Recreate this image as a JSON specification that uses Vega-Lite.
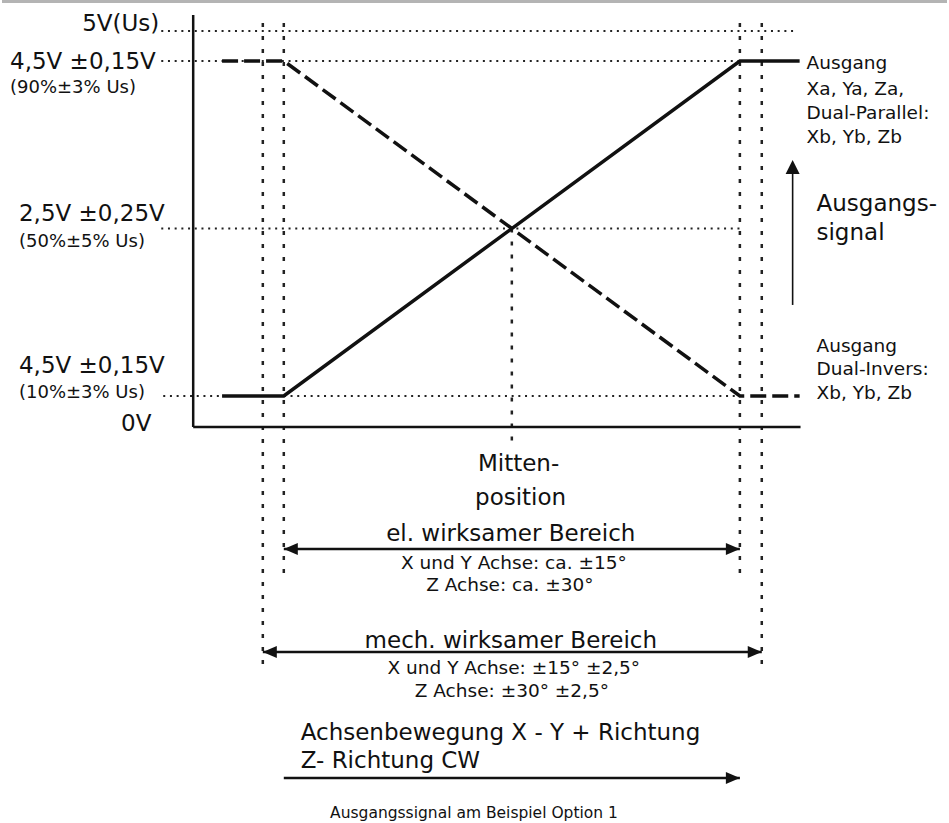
{
  "$schema": "https://vega.github.io/schema/vega-lite/v6.json",
  "width": 949,
  "height": 823,
  "autosize": {"type": "fit", "contains": "padding"},
  "padding": 0,
  "background": "white",
  "config": {"view": {"stroke": null}},
  "encoding": {
    "x": {"field": "x", "type": "quantitative", "scale": {"domain": [-33.536, 28.624], "nice": false, "zero": false}, "axis": null},
    "y": {"field": "y", "type": "quantitative", "scale": {"domain": [-4.598, 5.228], "nice": false, "zero": false}, "axis": null}
  },
  "layer": [
    {
      "data": {"values": [{"x": -33.536, "x2": 28.624, "y": 5.21, "y2": 5.21}]},
      "mark": {"type": "rule", "color": "#b4b4b4", "strokeWidth": 3},
      "encoding": {"x2": {"field": "x2"}, "y2": {"field": "y2"}}
    },
    {
      "data": {"values": [
        {"x": -23.06, "x2": 18.54, "y": 4.858, "y2": 4.858},
        {"x": -23.06, "x2": 15, "y": 4.5, "y2": 4.5},
        {"x": -23.06, "x2": 15, "y": 2.5, "y2": 2.5},
        {"x": -22.93, "x2": 15, "y": 0.5, "y2": 0.5}
      ]},
      "mark": {"type": "rule", "color": "#222", "strokeWidth": 2, "strokeDash": [2, 4.7]},
      "encoding": {"x2": {"field": "x2"}, "y2": {"field": "y2"}}
    },
    {
      "data": {"values": [
        {"x": -16.38, "x2": -16.38, "y": 4.954, "y2": -2.736},
        {"x": -15, "x2": -15, "y": 4.954, "y2": -1.613},
        {"x": 0, "x2": 0, "y": 2.5, "y2": -0.049},
        {"x": 15, "x2": 15, "y": 4.954, "y2": -1.613},
        {"x": 16.44, "x2": 16.44, "y": 4.954, "y2": -2.736}
      ]},
      "mark": {"type": "rule", "color": "#222", "strokeWidth": 2.5, "strokeDash": [4, 9]},
      "encoding": {"x2": {"field": "x2"}, "y2": {"field": "y2"}}
    },
    {
      "data": {"values": [
        {"x": -20.96, "x2": -20.96, "y": 5.049, "y2": 0.13},
        {"x": -20.96, "x2": 18.99, "y": 0.13, "y2": 0.13}
      ]},
      "mark": {"type": "rule", "color": "#111", "strokeWidth": 2.5},
      "encoding": {"x2": {"field": "x2"}, "y2": {"field": "y2"}}
    },
    {
      "data": {"values": [
        {"x": -19.06, "y": 0.5},
        {"x": -15, "y": 0.5},
        {"x": 15, "y": 4.5},
        {"x": 18.93, "y": 4.5}
      ]},
      "mark": {"type": "line", "color": "#111", "strokeWidth": 3.5},
      "encoding": {}
    },
    {
      "data": {"values": [
        {"x": -19.06, "y": 4.5},
        {"x": -15, "y": 4.5},
        {"x": 15, "y": 0.5},
        {"x": 18.93, "y": 0.5}
      ]},
      "mark": {"type": "line", "color": "#111", "strokeWidth": 3.5, "strokeDash": [16, 6]},
      "encoding": {}
    },
    {
      "data": {"values": [
        {"x": -15, "x2": 15, "y": -1.327, "y2": -1.327},
        {"x": -16.38, "x2": 16.44, "y": -2.557, "y2": -2.557},
        {"x": -15, "x2": 15, "y": -4.061, "y2": -4.061}
      ]},
      "mark": {"type": "rule", "color": "#111", "strokeWidth": 2.5},
      "encoding": {"x2": {"field": "x2"}, "y2": {"field": "y2"}}
    },
    {
      "data": {"values": [{"x": 18.47, "x2": 18.47, "y": 1.587, "y2": 3.2}]},
      "mark": {"type": "rule", "color": "#111", "strokeWidth": 1.6},
      "encoding": {"x2": {"field": "x2"}, "y2": {"field": "y2"}}
    },
    {
      "data": {"values": [
        {"x": -15, "y": -1.327, "dir": "left"},
        {"x": 15, "y": -1.327, "dir": "right"},
        {"x": -16.38, "y": -2.557, "dir": "left"},
        {"x": 16.44, "y": -2.557, "dir": "right"},
        {"x": 15, "y": -4.061, "dir": "right"},
        {"x": 18.47, "y": 3.318, "dir": "up"}
      ]},
      "mark": {"type": "point", "filled": true, "color": "#111", "opacity": 1, "size": 196, "strokeWidth": 0},
      "encoding": {
        "shape": {"field": "dir", "type": "nominal", "legend": null,
          "scale": {"domain": ["left", "right", "up"], "range": ["M0,0L2,-0.85L2,0.85Z", "M0,0L-2,-0.85L-2,0.85Z", "M0,0L-1,2L1,2Z"]}}
      }
    },
    {
      "data": {"values": [
        {"x": -33.01, "y": 4.488, "t": "4,5V ±0,15V"},
        {"x": -32.42, "y": 2.673, "t": "2,5V ±0,25V"},
        {"x": -32.42, "y": 0.858, "t": "4,5V ±0,15V"},
        {"x": -13.89, "y": -3.524, "t": "Achsenbewegung X - Y + Richtung"},
        {"x": -13.89, "y": -3.858, "t": "Z- Richtung CW"},
        {"x": -2.23, "y": -0.312, "t": "Mitten-"},
        {"x": -2.42, "y": -0.718, "t": "position"}
      ]},
      "mark": {"type": "text", "align": "left", "baseline": "middle", "font": "DejaVu Sans", "fontSize": 23, "color": "#111"},
      "encoding": {"text": {"field": "t"}}
    },
    {
      "data": {"values": [
        {"x": -23.19, "y": 4.942, "t": "5V(Us)"},
        {"x": -23.71, "y": 0.166, "t": "0V"}
      ]},
      "mark": {"type": "text", "align": "right", "baseline": "middle", "font": "DejaVu Sans", "fontSize": 23, "color": "#111"},
      "encoding": {"text": {"field": "t"}}
    },
    {
      "data": {"values": [
        {"x": -33.01, "y": 4.178, "t": "(90%±3% Us)"},
        {"x": -32.42, "y": 2.339, "t": "(50%±5% Us)"},
        {"x": -32.42, "y": 0.536, "t": "(10%±3% Us)"}
      ]},
      "mark": {"type": "text", "align": "left", "baseline": "middle", "font": "DejaVu Sans", "fontSize": 18, "color": "#111"},
      "encoding": {"text": {"field": "t"}}
    },
    {
      "data": {"values": [
        {"x": 19.39, "y": 4.476, "t": "Ausgang"},
        {"x": 19.39, "y": 4.166, "t": "Xa, Ya, Za,"},
        {"x": 19.39, "y": 3.879, "t": "Dual-Parallel:"},
        {"x": 19.39, "y": 3.593, "t": "Xb, Yb, Zb"},
        {"x": 20.04, "y": 1.097, "t": "Ausgang"},
        {"x": 20.04, "y": 0.822, "t": "Dual-Invers:"},
        {"x": 20.04, "y": 0.536, "t": "Xb, Yb, Zb"}
      ]},
      "mark": {"type": "text", "align": "left", "baseline": "middle", "font": "DejaVu Sans", "fontSize": 18.5, "color": "#111"},
      "encoding": {"text": {"field": "t"}}
    },
    {
      "data": {"values": [
        {"x": 20.04, "y": 2.793, "t": "Ausgangs-"},
        {"x": 20.04, "y": 2.446, "t": "signal"}
      ]},
      "mark": {"type": "text", "align": "left", "baseline": "middle", "font": "DejaVu Sans", "fontSize": 23, "color": "#111"},
      "encoding": {"text": {"field": "t"}}
    },
    {
      "data": {"values": [
        {"x": -0.07, "y": -1.148, "t": "el. wirksamer Bereich"},
        {"x": -0.07, "y": -2.425, "t": "mech. wirksamer Bereich"}
      ]},
      "mark": {"type": "text", "align": "center", "baseline": "middle", "font": "DejaVu Sans", "fontSize": 23, "color": "#111"},
      "encoding": {"text": {"field": "t"}}
    },
    {
      "data": {"values": [
        {"x": 0.13, "y": -1.494, "t": "X und Y Achse: ca. ±15°"},
        {"x": -0.13, "y": -1.757, "t": "Z Achse: ca. ±30°"},
        {"x": 0.13, "y": -2.748, "t": "X und Y Achse: ±15° ±2,5°"},
        {"x": 0, "y": -3.022, "t": "Z Achse: ±30° ±2,5°"}
      ]},
      "mark": {"type": "text", "align": "center", "baseline": "middle", "font": "DejaVu Sans", "fontSize": 18.5, "color": "#111"},
      "encoding": {"text": {"field": "t"}}
    },
    {
      "data": {"values": [
        {"x": -2.49, "y": -4.479, "t": "Ausgangssignal am Beispiel Option 1"}
      ]},
      "mark": {"type": "text", "align": "center", "baseline": "middle", "font": "DejaVu Sans", "fontSize": 15.5, "color": "#111"},
      "encoding": {"text": {"field": "t"}}
    }
  ]
}
